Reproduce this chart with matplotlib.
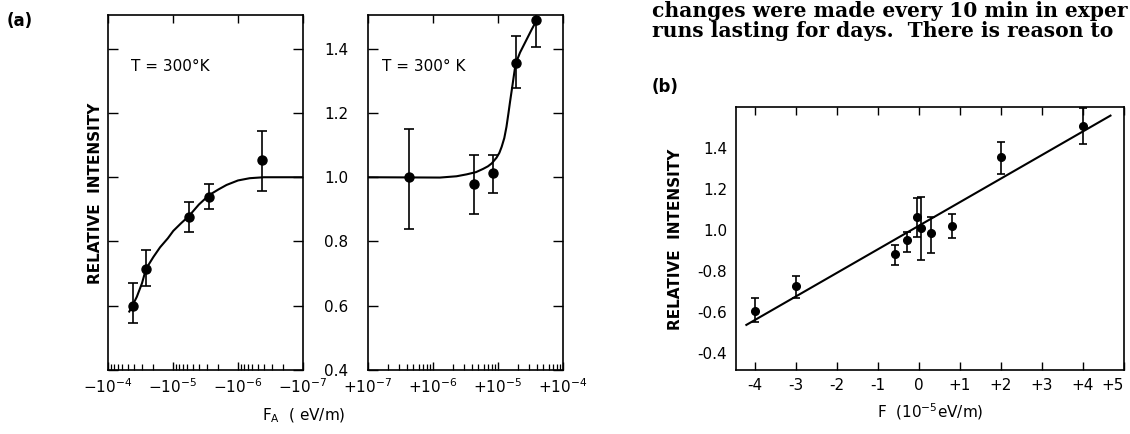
import numpy as np
import matplotlib
matplotlib.use("Agg")
import matplotlib.pyplot as plt
from matplotlib.ticker import LogLocator, FixedLocator, NullFormatter

# ---------------- data ----------------
# panel (a) left: negative field F_A (eV/m)
neg_F = [-4.1e-5, -2.6e-5, -5.7e-6, -2.8e-6, -4.3e-7]
neg_I = [0.60, 0.714, 0.877, 0.94, 1.053]
neg_lo = [0.545, 0.66, 0.83, 0.90, 0.957]
neg_hi = [0.67, 0.775, 0.923, 0.98, 1.145]
neg_curve_F = [-4.7e-5, -4.1e-5, -3.6e-5, -3.0e-5, -2.6e-5, -2.0e-5, -1.58e-5,
               -1.2e-5, -9.9e-6, -7.5e-6, -5.7e-6, -4.0e-6, -2.8e-6, -2.0e-6,
               -1.5e-6, -1.0e-6, -6.6e-7, -4e-7, -1e-7]
neg_curve_I = [0.582, 0.605, 0.628, 0.67, 0.715, 0.752, 0.782, 0.81, 0.833,
               0.857, 0.879, 0.915, 0.944, 0.962, 0.976, 0.99, 0.997, 1.0, 1.0]

# panel (a) right: positive field
pos_F = [4.3e-7, 4.2e-6, 8.4e-6, 1.87e-5, 3.9e-5]
pos_I = [1.0, 0.978, 1.012, 1.357, 1.49]
pos_lo = [0.84, 0.887, 0.95, 1.277, 1.406]
pos_hi = [1.15, 1.068, 1.07, 1.44, 1.52]
pos_curve_F = [1e-7, 1.28e-6, 2.3e-6, 3.3e-6, 4.6e-6, 5.9e-6, 7.0e-6, 8e-6,
               9.5e-6, 1.05e-5, 1.14e-5, 1.25e-5, 1.35e-5, 1.45e-5, 1.53e-5,
               1.68e-5, 1.86e-5, 2.18e-5, 2.76e-5, 3.3e-5, 3.94e-5]
pos_curve_I = [1.0, 0.999, 1.003, 1.009, 1.016, 1.026, 1.034, 1.043, 1.061,
               1.076, 1.095, 1.122, 1.157, 1.2, 1.234, 1.29, 1.352, 1.388,
               1.429, 1.46, 1.489]

# panel (b): F in units of 1e-5 eV/m
b_F = [-4.0, -3.0, -0.585, -0.285, -0.04, 0.04, 0.29, 0.80, 2.0, 4.0]
b_I = [0.607, 0.728, 0.883, 0.951, 1.062, 1.011, 0.984, 1.021, 1.358, 1.507]
b_lo = [0.55, 0.667, 0.829, 0.894, 0.967, 0.854, 0.886, 0.960, 1.273, 1.418]
b_hi = [0.67, 0.776, 0.927, 0.992, 1.155, 1.162, 1.062, 1.077, 1.43, 1.597]
b_line_F = [-4.21, 4.67]
b_line_I = [0.537, 1.558]

a_yticks = [0.4, 0.6, 0.8, 1.0, 1.2, 1.4]
a_yticklabels = ["0.4", "0.6", "0.8", "1.0", "1.2", "1.4"]
neg_xticks = [1e-4, 1e-5, 1e-6, 1e-7]
neg_xticklabels = [r"$-10^{-4}$", r"$-10^{-5}$", r"$-10^{-6}$", r"$-10^{-7}$"]
pos_xticks = [1e-7, 1e-6, 1e-5, 1e-4]
pos_xticklabels = [r"$+10^{-7}$", r"$+10^{-6}$", r"$+10^{-5}$", r"$+10^{-4}$"]
b_xticks = [-4, -3, -2, -1, 0, 1, 2, 3, 4, 5]
b_xticklabels = ["-4", "-3", "-2", "-1", "0", "+1", "+2", "+3", "+4", "+5"]
b_yticks = [0.4, 0.6, 0.8, 1.0, 1.2, 1.4]
b_yticklabels = ["-0.4", "-0.6", "-0.8", "1.0", "1.2", "1.4"]

# ---------------- figure ----------------
plt.rcParams['mathtext.default'] = 'regular'
plt.rcParams['font.family'] = ['DejaVu Sans']
W, H = 1130, 434
fig = plt.figure(figsize=(W / 100, H / 100), dpi=100)

def fx(px):
    return px / W

def fy(py):
    return 1 - py / H

axL = fig.add_axes([fx(108), fy(370), fx(195), fy(15) - fy(370)])
axR = fig.add_axes([fx(368), fy(370), fx(195), fy(15) - fy(370)])
axB = fig.add_axes([fx(735.7), fy(370), fx(1124 - 735.7), fy(107) - fy(370)])

lw = 1.5
ebkw = dict(fmt='o', color='black', ms=6.5, elinewidth=1.2, capsize=3.5,
            capthick=1.2)

def asym(vals, lo, hi):
    v = np.array(vals)
    return [v - np.array(lo), np.array(hi) - v]

# left panel (negative fields, plotted by magnitude on reversed log axis)
axL.plot(np.abs(neg_curve_F), neg_curve_I, color='black', lw=lw)
axL.errorbar(np.abs(neg_F), neg_I, yerr=asym(neg_I, neg_lo, neg_hi), **ebkw)
axL.set_xscale('log')
axL.set_xlim(1e-4, 1e-7)
axL.set_ylim(0.4, 1.505)

axR.plot(pos_curve_F, pos_curve_I, color='black', lw=lw)
axR.errorbar(pos_F, pos_I, yerr=asym(pos_I, pos_lo, pos_hi), **ebkw)
axR.set_xscale('log')
axR.set_xlim(1e-7, 1e-4)
axR.set_ylim(0.4, 1.505)

for ax, ticks, labels in [(axL, neg_xticks, neg_xticklabels),
                          (axR, pos_xticks, pos_xticklabels)]:
    ax.xaxis.set_major_locator(FixedLocator(ticks))
    ax.set_xticklabels(labels)
    ax.xaxis.set_minor_locator(LogLocator(base=10, subs=np.arange(2, 10)))
    ax.xaxis.set_minor_formatter(NullFormatter())
    ax.tick_params(axis='x', which='major', direction='in', top=True,
                   bottom=True, length=6, width=1.0, labelsize=11, pad=5)
    ax.tick_params(axis='x', which='minor', direction='in', top=False,
                   bottom=True, length=4, width=0.9)
    ax.set_yticks(a_yticks)
    ax.tick_params(axis='y', which='both', direction='in', left=True,
                   right=True, length=7, width=1.0)
    ax.yaxis.set_minor_locator(FixedLocator([]))
    for s in ax.spines.values():
        s.set_linewidth(1.2)

axL.set_yticklabels([])
axR.set_yticklabels(a_yticklabels)
axR.tick_params(axis='y', labelsize=11, pad=14)

axL.text(0.12, 0.855, "T = 300°K", transform=axL.transAxes, fontsize=11,
         va='center', ha='left')
axR.text(0.07, 0.855, "T = 300° K", transform=axR.transAxes, fontsize=11,
         va='center', ha='left')

fig.text(fx(95), fy(193), "RELATIVE  INTENSITY", rotation=90, fontsize=11,
         ha='center', va='center', fontweight='bold')
fig.text(fx(262), fy(416), r"$F_A$  ( eV/m)", fontsize=11, ha='left',
         va='center')
fig.text(fx(7), fy(21), "(a)", fontsize=12, fontweight='bold', ha='left',
         va='center')

# panel (b)
axB.plot(b_line_F, b_line_I, color='black', lw=lw)
axB.errorbar(b_F, b_I, yerr=asym(b_I, b_lo, b_hi), fmt='o', color='black',
             ms=5.5, elinewidth=1.2, capsize=3, capthick=1.2)
axB.set_xlim(-4.47, 5.0)
axB.set_ylim(0.317, 1.6)
axB.set_xticks(b_xticks)
axB.set_xticklabels(b_xticklabels)
axB.set_yticks(b_yticks)
axB.set_yticklabels(b_yticklabels)
axB.tick_params(axis='x', direction='in', top=True, bottom=True, length=6,
                width=1.0, labelsize=11, pad=6)
axB.get_xticklabels()[-1].set_horizontalalignment('right')
axB.tick_params(axis='y', length=0, labelsize=11, pad=6)
for s in axB.spines.values():
    s.set_linewidth(1.2)
axB.set_xlabel(r"F  ($10^{-5}$eV/m)", fontsize=11, labelpad=6)
fig.text(fx(676), fy(239), "RELATIVE  INTENSITY", rotation=90, fontsize=11,
         ha='center', va='center', fontweight='bold')
fig.text(fx(652), fy(87), "(b)", fontsize=12, fontweight='bold', ha='left',
         va='center')

fig.text(fx(652), fy(11), "changes were made every 10 min in exper",
         fontsize=14.6, family='DejaVu Serif', fontweight='bold', ha='left',
         va='center')
fig.text(fx(652), fy(31), "runs lasting for days.  There is reason to",
         fontsize=14.6, family='DejaVu Serif', fontweight='bold', ha='left',
         va='center')

fig.savefig("out.png", dpi=100)
